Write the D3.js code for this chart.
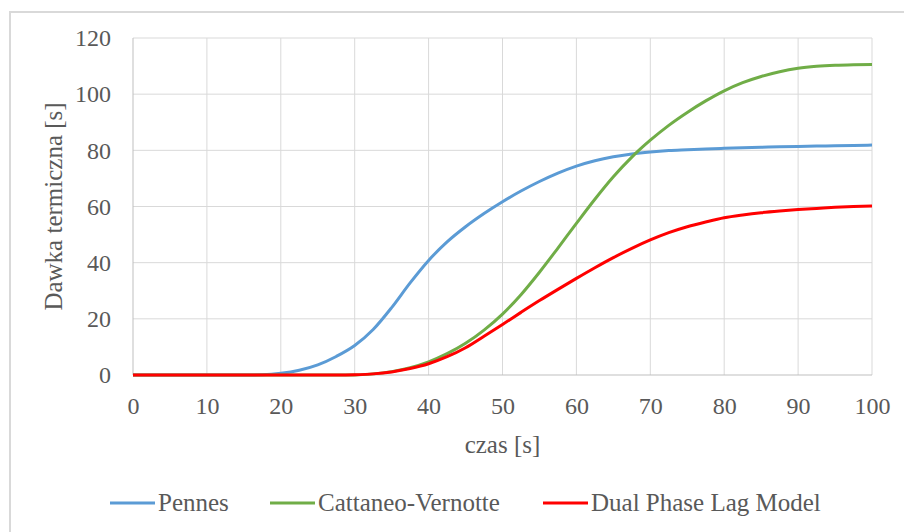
<!DOCTYPE html>
<html>
<head>
<meta charset="utf-8">
<script src="https://cdn.jsdelivr.net/npm/d3@7"></script>
<style>
  html, body { margin: 0; padding: 0; background: #fff; }
  svg { display: block; }
  text { font-family: "Liberation Serif", "Times New Roman", serif; fill: #595959; }
</style>
</head>
<body>
<svg id="chart" width="904" height="532"></svg>
<script>
// Time axis samples [s]
const czas = [0, 2.5, 5, 7.5, 10, 12.5, 15, 17.5, 20, 22.5, 25, 27.5, 30, 32.5, 35, 37.5, 40, 42.5, 45, 47.5,
  50, 52.5, 55, 57.5, 60, 62.5, 65, 67.5, 70, 72.5, 75, 77.5, 80, 82.5, 85, 87.5, 90, 92.5, 95, 97.5, 100];

// Thermal dose for each bioheat model
const pennes = [0, 0, 0, 0, 0, 0, 0, 0.1, 0.6, 1.7, 3.6, 6.6, 10.5, 16.2, 24, 32.8, 40.8, 47.4, 52.8, 57.5,
  61.7, 65.5, 68.9, 71.9, 74.4, 76.3, 77.7, 78.7, 79.4, 79.9, 80.2, 80.5, 80.7, 80.9, 81.1, 81.3, 81.4, 81.5, 81.6, 81.7, 81.9];
const cattaneo = [0, 0, 0, 0, 0, 0, 0, 0, 0, 0, 0, 0, 0, 0.4, 1.2, 2.6, 4.7, 7.6, 11.3, 16,
  21.7, 28.6, 36.6, 45.2, 54, 62.6, 70.6, 77.6, 83.6, 88.9, 93.5, 97.6, 101.2, 104.1, 106.3, 108, 109.2, 109.9, 110.3, 110.5, 110.6];
const dpl = [0, 0, 0, 0, 0, 0, 0, 0, 0, 0, 0, 0, 0.1, 0.4, 1.1, 2.3, 4, 6.5, 9.7, 13.8,
  18, 22.3, 26.5, 30.5, 34.4, 38.2, 41.8, 45.1, 48.1, 50.7, 52.8, 54.5, 56, 57, 57.8, 58.4, 58.9, 59.3, 59.7, 60, 60.2];

const xTicks = [0, 10, 20, 30, 40, 50, 60, 70, 80, 90, 100];
const yTicks = [0, 20, 40, 60, 80, 100, 120];

const seriesNames = ["Pennes", "Cattaneo-Vernotte", "Dual Phase Lag Model"];
const seriesColors = ["#5b9bd5", "#70ad47", "#ff0000"];
const seriesValues = [pennes, cattaneo, dpl];

const svg = d3.select("#chart");

// Chart frame
svg.append("rect")
  .attr("x", 10).attr("y", 12)
  .attr("width", 910).attr("height", 540)
  .attr("fill", "#fff")
  .attr("stroke", "#d9d9d9").attr("stroke-width", 2);

const plot = { left: 133, right: 872, top: 38, bottom: 375 };

const x = d3.scaleLinear().domain([0, 100]).range([plot.left, plot.right]);
const y = d3.scaleLinear().domain([0, 120]).range([plot.bottom, plot.top]);

// Gridlines
const grid = svg.append("g");
grid.selectAll("line.v").data(xTicks.slice(1)).join("line")
  .attr("x1", d => x(d)).attr("x2", d => x(d))
  .attr("y1", plot.top).attr("y2", plot.bottom)
  .attr("stroke", "#d9d9d9").attr("stroke-width", 1);
grid.selectAll("line.h").data(yTicks.slice(1)).join("line")
  .attr("x1", plot.left).attr("x2", plot.right)
  .attr("y1", d => y(d)).attr("y2", d => y(d))
  .attr("stroke", "#d9d9d9").attr("stroke-width", 1);

// Axis lines
svg.append("line")
  .attr("x1", plot.left).attr("x2", plot.left)
  .attr("y1", plot.top).attr("y2", plot.bottom)
  .attr("stroke", "#bfbfbf").attr("stroke-width", 1);
svg.append("line")
  .attr("x1", plot.left).attr("x2", plot.right)
  .attr("y1", plot.bottom).attr("y2", plot.bottom)
  .attr("stroke", "#bfbfbf").attr("stroke-width", 1);

// Axes (labels only)
const xAxis = svg.append("g")
  .attr("transform", `translate(0,${plot.bottom})`)
  .call(d3.axisBottom(x).tickValues(xTicks).tickSize(0).tickPadding(22).tickFormat(d3.format("d")));
const yAxis = svg.append("g")
  .attr("transform", `translate(${plot.left},0)`)
  .call(d3.axisLeft(y).tickValues(yTicks).tickSize(0).tickPadding(22).tickFormat(d3.format("d")));
[xAxis, yAxis].forEach(a => {
  a.select(".domain").remove();
  a.selectAll("text")
    .style("font-family", '"Liberation Serif", "Times New Roman", serif')
    .style("font-size", "24px")
    .attr("fill", "#595959");
});

// Axis titles
svg.append("text")
  .attr("x", (plot.left + plot.right) / 2).attr("y", 453)
  .attr("text-anchor", "middle")
  .style("font-size", "25px")
  .text("czas [s]");
svg.append("text")
  .attr("transform", `translate(62,${(plot.top + plot.bottom) / 2}) rotate(-90)`)
  .attr("text-anchor", "middle")
  .style("font-size", "25px")
  .text("Dawka termiczna [s]");

// Series lines
const line = d3.line()
  .x(d => x(d[0]))
  .y(d => y(d[1]))
  .curve(d3.curveMonotoneX);

seriesValues.forEach((vals, i) => {
  svg.append("path")
    .datum(czas.map((t, j) => [t, vals[j]]))
    .attr("fill", "none")
    .attr("stroke", seriesColors[i])
    .attr("stroke-width", 3)
    .attr("stroke-linejoin", "round")
    .attr("d", line);
});

// Legend
const legendX = [110, 270, 543];
const legend = svg.append("g");
seriesNames.forEach((name, i) => {
  const g = legend.append("g").attr("transform", `translate(${legendX[i]},503)`);
  g.append("line")
    .attr("x1", 0).attr("x2", 45)
    .attr("y1", 0).attr("y2", 0)
    .attr("stroke", seriesColors[i]).attr("stroke-width", 3);
  g.append("text")
    .attr("x", 48).attr("y", 8)
    .style("font-size", "25px")
    .text(name);
});
</script>
</body>
</html>
